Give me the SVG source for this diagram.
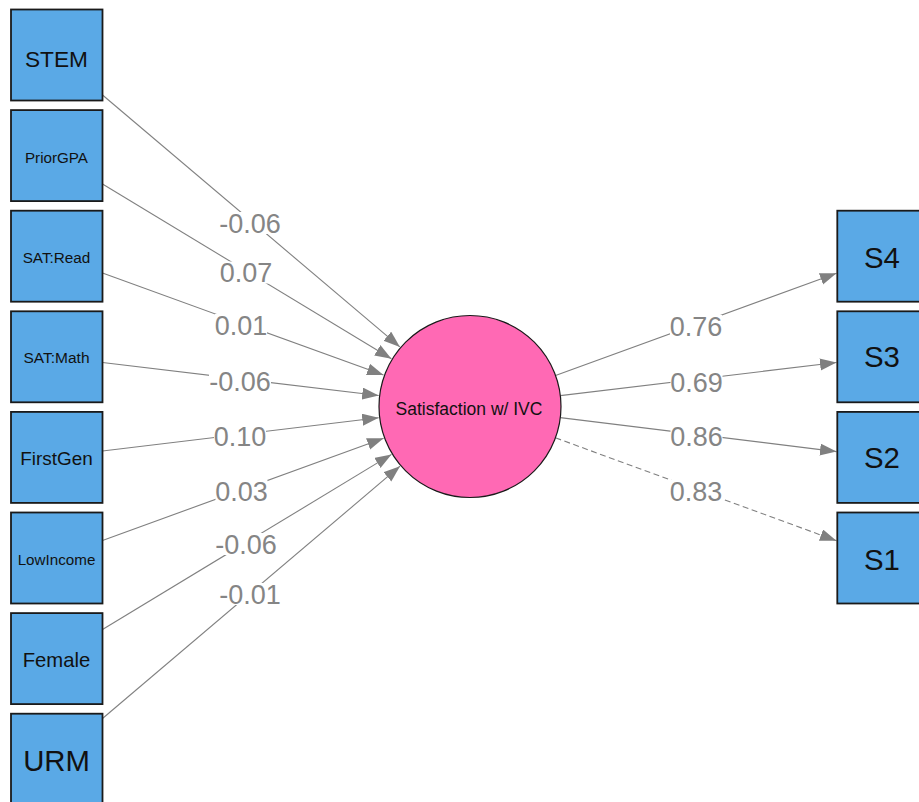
<svg xmlns="http://www.w3.org/2000/svg" width="919" height="802" viewBox="0 0 919 802">
<defs>
<style>
.box{fill:#5AA9E6;stroke:#1a1a1a;stroke-width:1.8}
.lat{fill:#FF69B4;stroke:#1a1a1a;stroke-width:1.2}
.nt{font-family:"Liberation Sans",Arial,sans-serif;fill:#111;text-anchor:middle}
.edge{stroke:#808080;stroke-width:1.1;fill:none;marker-end:url(#arr)}
.dash{stroke-dasharray:6,3.5}
.lbg{fill:#fff}
.lt{font-family:"Liberation Sans",Arial,sans-serif;font-size:27px;fill:#858585;text-anchor:middle}
</style>
<marker id="arr" markerUnits="userSpaceOnUse" markerWidth="18" markerHeight="13" refX="16.5" refY="6" orient="auto">
<path d="M0,0 L16.5,6 L0,12 z" fill="#808080"/>
</marker>
</defs>
<rect width="919" height="802" fill="#fff"/>
<g id="connectors">
<line class="edge" x1="102.5" y1="95" x2="399.9" y2="346.9"/>
<line class="edge" x1="102.5" y1="184" x2="391.4" y2="358.8"/>
<line class="edge" x1="102.5" y1="273" x2="383.5" y2="375.1"/>
<line class="edge" x1="102.5" y1="362.5" x2="378.7" y2="395.5"/>
<line class="edge" x1="102.5" y1="451" x2="378.7" y2="417.7"/>
<line class="edge" x1="102.5" y1="540.5" x2="383.6" y2="438.2"/>
<line class="edge" x1="102.5" y1="629.5" x2="391.5" y2="454.4"/>
<line class="edge" x1="102.5" y1="718.5" x2="400" y2="466.2"/>
<line class="edge" x1="555.5" y1="375.4" x2="836.5" y2="273.3"/>
<line class="edge" x1="560.3" y1="395.6" x2="836.5" y2="362.5"/>
<line class="edge" x1="560.3" y1="417.6" x2="836.5" y2="451.6"/>
<line class="edge dash" x1="555.4" y1="437.8" x2="836.5" y2="540.8"/>
<rect class="lbg" x="219" y="212" width="62" height="22"/>
<text class="lt" x="250" y="232.7">-0.06</text>
<rect class="lbg" x="220" y="261.5" width="52" height="22"/>
<text class="lt" x="246" y="282.2">0.07</text>
<rect class="lbg" x="215" y="314" width="52" height="22"/>
<text class="lt" x="241" y="334.7">0.01</text>
<rect class="lbg" x="209" y="370" width="62" height="22"/>
<text class="lt" x="240" y="390.7">-0.06</text>
<rect class="lbg" x="214" y="425" width="52" height="22"/>
<text class="lt" x="240" y="445.7">0.10</text>
<rect class="lbg" x="215.5" y="480" width="52" height="22"/>
<text class="lt" x="241.5" y="500.7">0.03</text>
<rect class="lbg" x="215" y="533" width="62" height="22"/>
<text class="lt" x="246" y="553.7">-0.06</text>
<rect class="lbg" x="219" y="583" width="62" height="22"/>
<text class="lt" x="250" y="603.7">-0.01</text>
<rect class="lbg" x="670" y="315" width="52" height="22"/>
<text class="lt" x="696" y="335.7">0.76</text>
<rect class="lbg" x="670.5" y="371" width="52" height="22"/>
<text class="lt" x="696.5" y="391.7">0.69</text>
<rect class="lbg" x="670.5" y="425" width="52" height="22"/>
<text class="lt" x="696.5" y="445.7">0.86</text>
<rect class="lbg" x="670" y="480" width="52" height="22"/>
<text class="lt" x="696" y="500.7">0.83</text>
</g>
<g id="STEM"><rect class="box" x="11" y="9.5" width="91.5" height="91"/><text class="nt" x="56.5" y="66.7" font-size="22.7">STEM</text></g>
<g id="PriorGPA"><rect class="box" x="11" y="110.1" width="91.5" height="91"/><text class="nt" x="56.5" y="163.3" font-size="15.2">PriorGPA</text></g>
<g id="SATRead"><rect class="box" x="11" y="210.7" width="91.5" height="91"/><text class="nt" x="56.5" y="263.3" font-size="15.3">SAT:Read</text></g>
<g id="SATMath"><rect class="box" x="11" y="311.3" width="91.5" height="91"/><text class="nt" x="56.5" y="363.3" font-size="15.5">SAT:Math</text></g>
<g id="FirstGen"><rect class="box" x="11" y="411.9" width="91.5" height="91"/><text class="nt" x="56.5" y="465" font-size="18.9">FirstGen</text></g>
<g id="LowIncome"><rect class="box" x="11" y="512.5" width="91.5" height="91"/><text class="nt" x="56.5" y="565" font-size="15.2">LowIncome</text></g>
<g id="Female"><rect class="box" x="11" y="613.1" width="91.5" height="91"/><text class="nt" x="56.5" y="666.7" font-size="20.3">Female</text></g>
<g id="URM"><rect class="box" x="11" y="713.7" width="91.5" height="91"/><text class="nt" x="56.5" y="770.7" font-size="29.3">URM</text></g>
<g id="Satisfaction"><circle class="lat" cx="470" cy="406.5" r="91"/><text class="nt" x="469" y="415" font-size="17.5">Satisfaction w/ IVC</text></g>
<g id="S4"><rect class="box" x="837.3" y="210.7" width="91.5" height="91"/><text class="nt" x="882" y="268.3" font-size="29.4">S4</text></g>
<g id="S3"><rect class="box" x="837.3" y="311.3" width="91.5" height="91"/><text class="nt" x="882" y="366.7" font-size="29.4">S3</text></g>
<g id="S2"><rect class="box" x="837.3" y="411.9" width="91.5" height="91"/><text class="nt" x="882" y="468.3" font-size="29.4">S2</text></g>
<g id="S1"><rect class="box" x="837.3" y="512.5" width="91.5" height="91"/><text class="nt" x="882" y="570" font-size="29.4">S1</text></g>
</svg>
